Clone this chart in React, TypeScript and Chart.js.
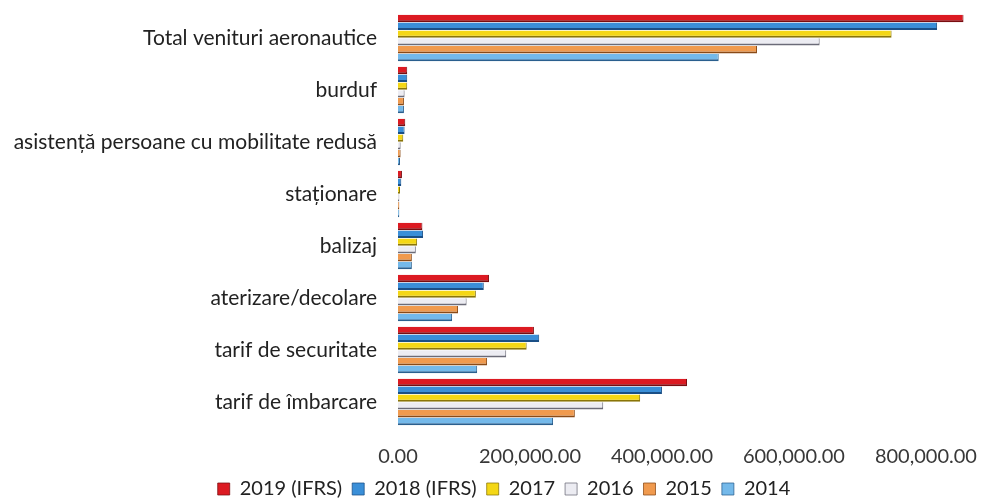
import React, { useEffect, useRef } from "react";
import { Chart, registerables } from "chart.js";

Chart.register(...registerables);

const categories = [
  "Total venituri aeronautice",
  "burduf",
  "asistență persoane cu mobilitate redusă",
  "staționare",
  "balizaj",
  "aterizare/decolare",
  "tarif de securitate",
  "tarif de îmbarcare",
];

const seriesNames = ["2019 (IFRS)", "2018 (IFRS)", "2017", "2016", "2015", "2014"];

const v2019 = [857000, 14000, 11000, 6000, 37000, 138000, 206000, 438000];
const v2018 = [817000, 14000, 10000, 5000, 38000, 130000, 214000, 400000];
const v2017 = [748000, 14000, 8000, 3000, 29000, 118000, 195000, 367000];
const v2016 = [639000, 10000, 4000, 2000, 27000, 104000, 164000, 311000];
const v2015 = [544000, 9000, 4000, 2000, 21000, 91000, 135000, 268000];
const v2014 = [486000, 9000, 3000, 2000, 21000, 82000, 120000, 235000];

const xTickValues = [0, 200000, 400000, 600000, 800000];

const fills = ["#dc1a22", "#3a8fd8", "#f4d715", "#ececf2", "#f09a4e", "#74b9ea"];
const edges = ["#7a0d10", "#1a4f86", "#8a7508", "#6b6b78", "#8a4a16", "#2a5f8e"];

const FONT = "Lato, 'Open Sans', sans-serif";

export default function App() {
  const ref = useRef<HTMLCanvasElement | null>(null);

  useEffect(() => {
    document.body.style.margin = "0";
    const canvas = ref.current;
    if (!canvas) return;
    const allValues = [v2019, v2018, v2017, v2016, v2015, v2014];
    const chart = new Chart(canvas, {
      type: "bar",
      data: {
        labels: categories,
        datasets: allValues.map((vals, i) => ({
          label: seriesNames[i],
          data: vals,
          backgroundColor: fills[i],
          borderColor: edges[i],
          borderWidth: { top: 0, right: 1, bottom: 2, left: 0 },
          borderSkipped: false,
          categoryPercentage: 0.9,
          barPercentage: 0.95,
        })),
      },
      options: {
        indexAxis: "y",
        responsive: false,
        animation: false,
        maintainAspectRatio: false,
        layout: { padding: { top: 12, left: 0, right: -26, bottom: -8 } },
        scales: {
          x: {
            min: 0,
            max: 885000,
            afterBuildTicks: (scale: any) => {
              scale.ticks = xTickValues.map((v) => ({ value: v }));
            },
            afterFit: (scale: any) => {
              scale.height = 41;
              scale.paddingLeft = 0;
              scale.paddingRight = 0;
            },
            grid: { display: false, drawTicks: false },
            border: { display: false },
            ticks: {
              padding: 17,
              color: "#383838",
              font: { family: FONT, size: 20 },
              callback: (v: any) =>
                Number(v).toLocaleString("en-US", {
                  minimumFractionDigits: 2,
                  maximumFractionDigits: 2,
                }),
            },
          },
          y: {
            afterFit: (scale: any) => {
              scale.width = 398;
              scale.paddingTop = 0;
              scale.paddingBottom = 0;
            },
            grid: { display: false, drawTicks: false },
            border: { display: false },
            ticks: {
              padding: 21,
              color: "#222222",
              font: { family: FONT, size: 21 },
            },
          },
        },
        plugins: {
          legend: {
            position: "bottom",
            labels: {
              boxWidth: 12,
              boxHeight: 12,
              padding: 10,
              color: "#222222",
              font: { family: FONT, size: 20 },
            },
          },
          tooltip: { enabled: false },
        },
      },
    } as any);
    return () => chart.destroy();
  }, []);

  return (
    <div style={{ width: 982, height: 501, background: "#fff" }}>
      <canvas ref={ref} width={982} height={501} style={{ display: "block" }} />
    </div>
  );
}
